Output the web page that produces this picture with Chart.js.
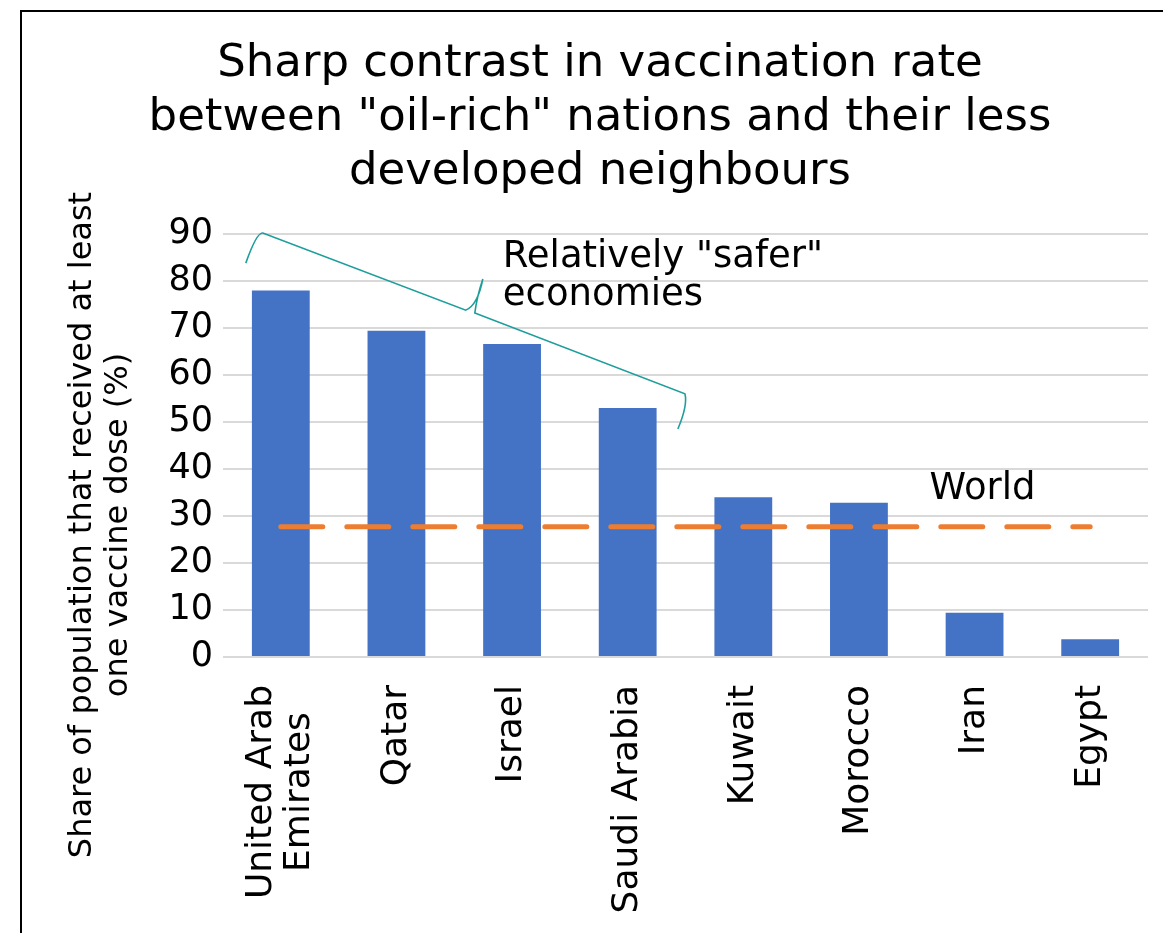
<!DOCTYPE html>
<html>
<head>
<meta charset="utf-8">
<script src="https://cdn.jsdelivr.net/npm/chart.js@4"></script>
<style>
  html, body { margin: 0; padding: 0; background: #fff; overflow: hidden; }
  #box { position: absolute; left: 20px; top: 10px; width: 1170px; height: 940px; border: 2px solid #000; }
</style>
</head>
<body>
<div id="box"><canvas id="vaxChart"></canvas></div>
<script>
// Data
const countries = [['United Arab', 'Emirates'], 'Qatar', 'Israel', 'Saudi Arabia', 'Kuwait', 'Morocco', 'Iran', 'Egypt'];
const vaccinated = [78, 69.4, 66.6, 53, 34, 32.8, 9.4, 3.8];
const worldRate = 27.7;
const yTitle = ['Share of population that received at least', 'one vaccine dose (%)'];
const chartTitle = ['Sharp contrast in vaccination rate', 'between "oil-rich" nations and their less', 'developed neighbours'];

// Annotations, in data units (category index, value)
const braceNote = ['Relatively "safer"', 'economies'];
const braceNotePos = [1.92, 83.0, 74.9];   // x index, baseline of line 1, baseline of line 2
const worldNotePos = [5.61, 33.6];
const brace = [
    ['M', -0.303, 83.8],
    ['Q', -0.208, 90.4, -0.156, 90.2],
    ['L', 1.600, 73.8],
    ['Q', 1.704, 74.9, 1.747, 80.4],
    ['Q', 1.696, 76.6, 1.678, 73.2],
    ['L', 3.495, 56.0],
    ['Q', 3.521, 53.6, 3.434, 48.5]
];

const FONT = 'DejaVu Sans';
Chart.defaults.font.family = FONT;
Chart.defaults.color = '#000';

const extras = {
    id: 'extras',
    afterDraw(chart) {
        const ctx = chart.ctx;
        const xs = chart.scales.x, ys = chart.scales.y;
        ctx.save();
        ctx.fillStyle = '#000';

        // category labels, rotated and centered per line
        ctx.font = '36px ' + FONT;
        const lh = 38;
        countries.forEach((lab, i) => {
            const lines = Array.isArray(lab) ? lab : [lab];
            const widest = Math.max(...lines.map(l => ctx.measureText(l).width));
            ctx.save();
            ctx.translate(xs.getPixelForValue(i), chart.chartArea.bottom + 28);
            ctx.rotate(-Math.PI / 2);
            ctx.textAlign = 'center';
            ctx.textBaseline = 'middle';
            lines.forEach((l, k) => {
                ctx.fillText(l, -widest / 2, (k - (lines.length - 1) / 2) * lh);
            });
            ctx.restore();
        });

        // y axis title
        ctx.font = '32px ' + FONT;
        const midY = 513;
        [69, 105].forEach((x, k) => {
            ctx.save();
            ctx.translate(x, midY);
            ctx.rotate(-Math.PI / 2);
            ctx.textAlign = 'center';
            ctx.textBaseline = 'alphabetic';
            ctx.fillText(yTitle[k], 0, 0);
            ctx.restore();
        });

        // notes
        ctx.font = '37px ' + FONT;
        ctx.textAlign = 'left';
        ctx.textBaseline = 'alphabetic';
        const bx = xs.getPixelForValue(braceNotePos[0]);
        ctx.fillText(braceNote[0], bx, ys.getPixelForValue(braceNotePos[1]));
        ctx.fillText(braceNote[1], bx, ys.getPixelForValue(braceNotePos[2]));
        ctx.fillText('World', xs.getPixelForValue(worldNotePos[0]), ys.getPixelForValue(worldNotePos[1]));

        // brace
        const px = v => xs.getPixelForValue(v);
        const py = v => ys.getPixelForValue(v);
        ctx.strokeStyle = '#1d9e9b';
        ctx.lineWidth = 1.6;
        ctx.beginPath();
        brace.forEach(s => {
            if (s[0] === 'M') ctx.moveTo(px(s[1]), py(s[2]));
            else if (s[0] === 'L') ctx.lineTo(px(s[1]), py(s[2]));
            else ctx.quadraticCurveTo(px(s[1]), py(s[2]), px(s[3]), py(s[4]));
        });
        ctx.stroke();
        ctx.restore();
    }
};

new Chart(document.getElementById('vaxChart').getContext('2d'), {
    type: 'bar',
    data: {
        labels: countries,
        datasets: [{
            type: 'line',
            label: 'World',
            data: countries.map(() => worldRate),
            borderColor: '#ED7D31',
            borderWidth: 5,
            borderDash: [42, 24],
            borderCapStyle: 'round',
            pointRadius: 0,
            fill: false,
            order: 0
        }, {
            label: 'Vaccinated',
            data: vaccinated,
            backgroundColor: '#4472C4',
            barPercentage: 0.5,
            categoryPercentage: 1,
            order: 1
        }]
    },
    options: {
        responsive: true,
        maintainAspectRatio: false,
        animation: false,
        layout: { padding: { left: 30, right: 44, top: 0, bottom: 0 } },
        plugins: {
            legend: { display: false },
            tooltip: { enabled: false },
            title: {
                display: true,
                text: chartTitle,
                color: '#000',
                font: { size: 45, weight: 'normal', lineHeight: 1.2 },
                padding: { top: 25, bottom: 35 }
            }
        },
        scales: {
            x: {
                grid: { display: false },
                border: { display: false },
                ticks: { display: false },
                afterFit: s => { s.height = 295; }
            },
            y: {
                min: 0,
                max: 90,
                ticks: { stepSize: 10, padding: 10, color: '#000', font: { size: 35 } },
                grid: { color: '#d9d9d9', lineWidth: 2, drawTicks: false },
                border: { display: false },
                afterFit: s => { s.width = 171; }
            }
        }
    },
    plugins: [extras]
});
</script>
</body>
</html>
